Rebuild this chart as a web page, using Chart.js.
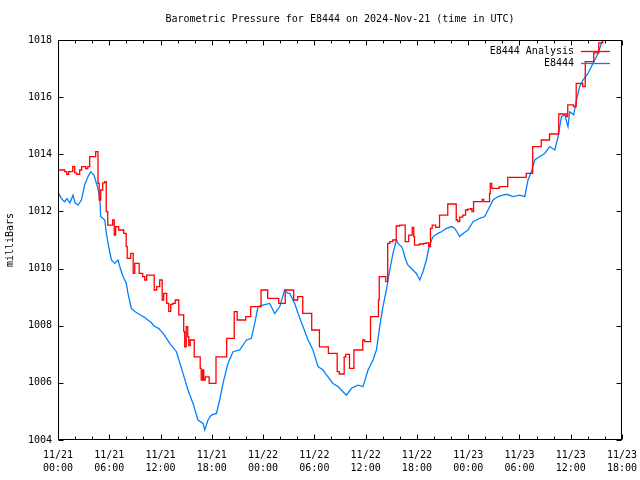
<!DOCTYPE html>
<html>
<head>
<meta charset="utf-8">
<script src="https://cdn.jsdelivr.net/npm/chart.js@4/dist/chart.umd.min.js"></script>
<style>
  html, body { margin: 0; padding: 0; background: #fff; }
  #wrap { width: 640px; height: 480px; }
</style>
</head>
<body>
<div id="wrap"><canvas id="pressureChart" width="640" height="480"></canvas></div>
<script>
// hours after 2024-11-21 00:00 UTC
const analysisHours = [0, 0.78, 1.02, 1.25, 1.72, 1.95, 2.19, 2.54, 2.77, 3.24, 3.48, 3.71, 4.41, 4.68, 4.82, 5.00, 5.23, 5.47, 5.64, 5.82,
  6.40, 6.58, 6.75, 7.10, 7.69, 7.98, 8.10, 8.51, 8.80, 8.98, 9.50, 9.91, 10.15, 10.38, 11.26, 11.55, 11.90, 12.19, 12.37, 12.72,
  12.96, 13.19, 13.42, 13.72, 14.13, 14.71, 14.83, 15.00, 15.18, 15.30, 15.47, 15.94, 16.64, 16.76, 16.93, 17.05, 17.23, 17.69, 18.49, 19.74,
  20.62, 20.97, 21.97, 22.55, 23.76, 24.54, 25.83, 26.59, 27.58, 28.05, 28.64, 29.69, 30.59, 31.64, 32.67, 32.91, 33.49, 33.67, 34.11, 34.63,
  35.66, 35.89, 36.57, 37.50, 37.59, 38.35, 38.58, 38.82, 39.17, 39.58, 39.99, 40.63, 41.04, 41.45, 41.63, 41.72, 42.27, 42.80, 43.09, 43.38,
  43.59, 43.79, 44.20, 44.65, 45.61, 46.60, 46.78, 47.01, 47.36, 47.69, 47.95, 48.30, 48.44, 48.63, 49.64, 49.82, 50.50, 50.58, 50.76, 51.63,
  52.63, 54.79, 55.55, 56.55, 57.52, 58.60, 59.47, 59.65, 60.33, 60.64, 61.40, 61.70, 62.69, 63.28, 63.75, 63.86];
const analysisMb = [1013.45, 1013.39, 1013.30, 1013.39, 1013.57, 1013.35, 1013.30, 1013.45, 1013.57, 1013.50, 1013.57, 1013.92, 1014.09, 1012.98, 1012.40, 1012.75, 1013.00, 1013.04, 1011.99, 1011.52,
  1011.70, 1011.17, 1011.47, 1011.35, 1011.23, 1010.77, 1010.36, 1010.53, 1009.83, 1010.18, 1009.83, 1009.72, 1009.60, 1009.77, 1009.25, 1009.37, 1009.60, 1008.90, 1009.13, 1008.78,
  1008.50, 1008.75, 1008.78, 1008.90, 1008.38, 1007.79, 1007.26, 1007.97, 1007.62, 1007.30, 1007.50, 1006.91, 1006.51, 1006.10, 1006.45, 1006.10, 1006.21, 1005.98, 1006.91, 1007.56,
  1008.49, 1008.20, 1008.32, 1008.67, 1009.25, 1008.96, 1008.78, 1009.25, 1008.90, 1009.02, 1008.43, 1007.85, 1007.26, 1007.03, 1006.39, 1006.31, 1006.91, 1007.00, 1006.51, 1007.15,
  1007.50, 1007.44, 1008.32, 1008.90, 1009.72, 1009.54, 1010.88, 1010.94, 1011.00, 1011.49, 1011.52, 1010.94, 1011.17, 1011.44, 1011.12, 1010.82, 1010.86, 1010.88, 1010.90, 1010.77,
  1011.41, 1011.52, 1011.44, 1011.87, 1012.26, 1011.70, 1011.64, 1011.80, 1011.87, 1012.05, 1012.08, 1012.10, 1011.99, 1012.34, 1012.42, 1012.34, 1012.63, 1012.98, 1012.81, 1012.87,
  1013.19, 1013.33, 1014.27, 1014.50, 1014.71, 1015.41, 1015.32, 1015.73, 1015.67, 1016.48, 1016.37, 1017.24, 1017.55, 1017.90, 1018.00, 1018.00];

const obsHours = [0, 0.3, 0.55, 0.78, 1.05, 1.4, 1.76, 2.0, 2.34, 2.74, 3.12, 3.51, 3.83, 4.21, 4.61, 4.88, 5.00, 5.47, 5.66, 5.93,
  6.25, 6.63, 7.02, 7.3, 7.61, 8.00, 8.19, 8.59, 9.0, 9.4, 9.8, 10.2, 10.5, 10.9, 11.2, 11.8, 12.4, 13.07, 13.86, 14.63,
  15.21, 15.80, 16.38, 16.97, 17.17, 17.55, 17.95, 18.54, 18.92, 19.31, 19.89, 20.48, 21.26, 22.05, 22.63, 23.02, 23.41, 23.99, 24.77, 25.36,
  25.95, 26.53, 26.92, 27.12, 27.70, 28.09, 28.67, 29.26, 29.84, 30.43, 31.01, 31.60, 32.18, 32.77, 33.35, 33.75, 34.34, 35.11, 35.69, 36.28,
  36.86, 37.26, 37.65, 38.03, 38.43, 38.82, 39.20, 39.60, 39.79, 40.19, 40.37, 40.69, 40.96, 41.36, 41.94, 42.33, 42.71, 43.11, 43.42, 43.88,
  44.47, 44.87, 45.45, 46.04, 46.42, 47.01, 47.40, 47.98, 48.57, 49.35, 49.94, 50.32, 50.91, 51.49, 52.08, 52.47, 53.25, 54.03, 54.62, 55.00,
  55.40, 55.79, 56.37, 56.96, 57.54, 58.13, 58.52, 58.91, 59.30, 59.68, 59.88, 60.35, 60.67, 61.05, 61.44, 62.02, 62.42, 62.81, 63.19, 63.59, 63.86];
const obsMb = [1012.69, 1012.50, 1012.40, 1012.34, 1012.45, 1012.30, 1012.57, 1012.30, 1012.22, 1012.40, 1012.93, 1013.22, 1013.39, 1013.27, 1012.87, 1012.52, 1011.82, 1011.70, 1011.23, 1010.77,
  1010.30, 1010.18, 1010.30, 1010.00, 1009.72, 1009.48, 1009.13, 1008.60, 1008.50, 1008.42, 1008.35, 1008.28, 1008.20, 1008.12, 1008.00, 1007.90, 1007.70, 1007.38, 1007.09, 1006.33,
  1005.75, 1005.28, 1004.70, 1004.58, 1004.35, 1004.70, 1004.87, 1004.93, 1005.40, 1005.98, 1006.68, 1007.09, 1007.15, 1007.50, 1007.56, 1008.08, 1008.67, 1008.72, 1008.78, 1008.43,
  1008.67, 1009.25, 1009.13, 1009.13, 1008.78, 1008.43, 1007.97, 1007.50, 1007.15, 1006.57, 1006.45, 1006.21, 1005.98, 1005.87, 1005.69, 1005.57, 1005.81, 1005.92, 1005.87, 1006.45,
  1006.80, 1007.15, 1007.97, 1008.67, 1009.25, 1009.95, 1010.53, 1011.00, 1010.88, 1010.77, 1010.65, 1010.30, 1010.12, 1010.00, 1009.83, 1009.60, 1009.89, 1010.30, 1010.77, 1011.12,
  1011.23, 1011.29, 1011.41, 1011.47, 1011.41, 1011.12, 1011.23, 1011.35, 1011.64, 1011.76, 1011.82, 1012.05, 1012.40, 1012.52, 1012.57, 1012.60, 1012.52, 1012.57, 1012.52, 1013.10,
  1013.39, 1013.80, 1013.92, 1014.03, 1014.27, 1014.15, 1014.62, 1015.32, 1015.38, 1014.97, 1015.49, 1015.38, 1015.90, 1016.37, 1016.60, 1016.83, 1017.07, 1017.30, 1017.53, 1017.88, 1018.05];

const tickDates = ['11/21', '11/21', '11/21', '11/21', '11/22', '11/22', '11/22', '11/22', '11/23', '11/23', '11/23', '11/23'];
const tickTimes = ['00:00', '06:00', '12:00', '18:00', '00:00', '06:00', '12:00', '18:00', '00:00', '06:00', '12:00', '18:00'];

const seriesNames = ['E8444 Analysis', 'E8444'];
const seriesColors = ['#ff0000', '#0080ff'];

// gnuplot style frame, inward ticks and legend
const gnuplotFrame = {
  id: 'gnuplotFrame',
  afterDatasetsDraw(chart) {
    const { ctx, chartArea: a, scales: { x, y } } = chart;
    const L = Math.round(a.left) + 0.5, R = Math.round(a.right) - 0.5;
    const T = Math.round(a.top) + 0.5, B = Math.round(a.bottom) - 0.5;
    ctx.save();
    ctx.strokeStyle = '#000';
    ctx.lineWidth = 1;
    ctx.strokeRect(L, T, R - L, B - T);
    ctx.beginPath();
    for (let h = x.min; h <= x.max; h += 2) {
      const px = Math.round(x.getPixelForValue(h)) + 0.5;
      const len = h % 6 === 0 ? 5 : 3;
      ctx.moveTo(px, B); ctx.lineTo(px, B - len);
      ctx.moveTo(px, T); ctx.lineTo(px, T + len);
    }
    y.ticks.forEach(t => {
      const py = Math.round(y.getPixelForValue(t.value)) + 0.5;
      ctx.moveTo(L, py); ctx.lineTo(L + 5, py);
      ctx.moveTo(R, py); ctx.lineTo(R - 5, py);
    });
    ctx.stroke();

    ctx.font = "10px 'DejaVu Sans Mono', monospace";
    ctx.textAlign = 'right';
    ctx.textBaseline = 'middle';
    chart.data.datasets.forEach((ds, i) => {
      const ly = Math.round(a.top) + 11 + i * 12;
      ctx.fillStyle = '#000';
      ctx.fillText(ds.label, a.right - 48, ly);
      ctx.strokeStyle = ds.borderColor;
      ctx.lineWidth = 1.3;
      ctx.beginPath();
      ctx.moveTo(a.right - 41, ly + 0.5);
      ctx.lineTo(a.right - 12, ly + 0.5);
      ctx.stroke();
    });
    ctx.restore();
  }
};

Chart.defaults.font.family = "'DejaVu Sans Mono', monospace";
Chart.defaults.font.size = 10;
Chart.defaults.color = '#000';

new Chart(document.getElementById('pressureChart').getContext('2d'), {
  type: 'line',
  data: {
    datasets: [{
      label: seriesNames[0],
      data: analysisHours.map((h, i) => ({ x: h, y: analysisMb[i] })),
      borderColor: seriesColors[0],
      borderWidth: 1.3,
      pointRadius: 0,
      stepped: true
    }, {
      label: seriesNames[1],
      data: obsHours.map((h, i) => ({ x: h, y: obsMb[i] })),
      borderColor: seriesColors[1],
      borderWidth: 1.3,
      pointRadius: 0,
      tension: 0
    }]
  },
  options: {
    responsive: false,
    animation: false,
    layout: { padding: { left: 0, right: 18, top: 0, bottom: 0 } },
    plugins: {
      legend: { display: false },
      tooltip: { enabled: false },
      title: {
        display: true,
        fullSize: false,
        text: 'Barometric Pressure for E8444 on 2024-Nov-21 (time in UTC)',
        font: { size: 10, weight: 'normal', lineHeight: 1.2 },
        color: '#000',
        padding: { top: 13, bottom: 15 }
      }
    },
    scales: {
      x: {
        type: 'linear',
        min: 0,
        max: 66,
        grid: { display: false, drawTicks: false },
        border: { display: false },
        ticks: {
          stepSize: 6,
          padding: 9,
          maxRotation: 0,
          autoSkip: false,
          font: { size: 10, lineHeight: 1.3 },
          callback: (v) => [tickDates[v / 6], tickTimes[v / 6]]
        },
        afterFit: (s) => { s.height = 40; s.paddingLeft = 0; s.paddingRight = 0; }
      },
      y: {
        min: 1004,
        max: 1018,
        grid: { display: false, drawTicks: false },
        border: { display: false },
        ticks: { stepSize: 2, padding: 6, callback: (v) => String(v) },
        title: {
          display: true,
          text: 'milliBars',
          font: { size: 10, lineHeight: 1.2 },
          padding: { top: 4, bottom: 0 }
        },
        afterFit: (s) => { s.width = 58; }
      }
    }
  },
  plugins: [gnuplotFrame]
});
</script>
</body>
</html>
